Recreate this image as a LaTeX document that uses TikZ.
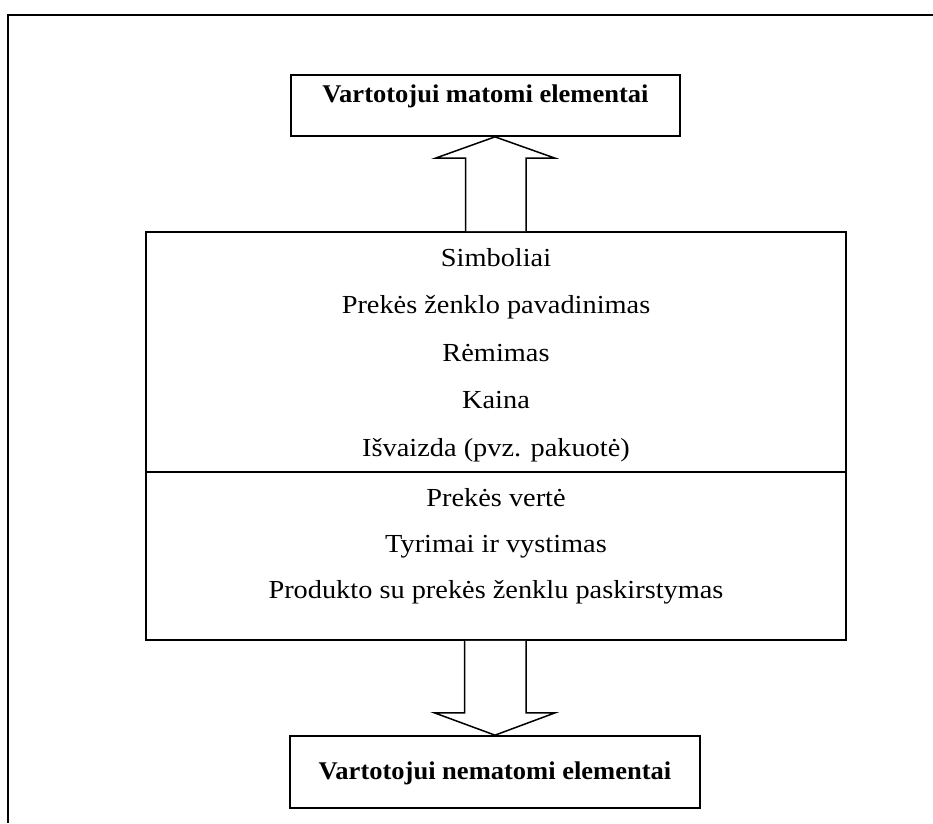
\documentclass[tikz,border=0pt]{standalone}
\usepackage{fontspec}
\setmainfont{Liberation Serif}
\newfontfamily\itemfont[FakeStretch=1.09]{Liberation Serif}
\newfontfamily\headfont[FakeStretch=1.04]{Liberation Serif}
\usetikzlibrary{calc}
\begin{document}
\begin{tikzpicture}[x=1pt,y=-1pt,
  frameline/.style={line width=2pt, black},
  boxshape/.style={draw, line width=1.7pt, rectangle, inner sep=0pt},
  headtext/.style={font=\headfont\fontsize{25.5}{28}\selectfont\bfseries, anchor=base, inner sep=0pt},
  itemtext/.style={font=\itemfont\fontsize{26}{28}\selectfont, anchor=base, inner sep=0pt},
  blockarrow/.style={draw, line width=1.5pt, line join=miter, fill=white}]
\useasboundingbox (0,0) rectangle (933,823);

% page frame (top and left edges)
\coordinate (frameTR) at (933,15);
\coordinate (frameTL) at (8,15);
\coordinate (frameBL) at (8,823);
\draw[frameline] (frameTR) -- (frameTL) -- (frameBL);

% visible elements box
\node[boxshape, minimum width=389pt, minimum height=61pt] (vis) at (485.5,105.5) {};
\node[headtext] (vistext) at (485.5,102) {Vartotojui matomi elementai};

% central box with two sections
\node[boxshape, minimum width=700pt, minimum height=408pt] (main) at (496,436) {};
\draw[line width=1.7pt] (main.west |- 0,472) -- (main.east |- 0,472);

\node[itemtext] (s1) at (496,266) {Simboliai};
\node[itemtext] (s2) at (496,313.5) {Prekės ženklo pavadinimas};
\node[itemtext] (s3) at (496,361) {Rėmimas};
\node[itemtext] (s4) at (496,408.5) {Kaina};
\node[itemtext] (s5) at (496,456) {Išvaizda (pvz. pakuotė)};

\node[itemtext] (n1) at (496,506) {Prekės vertė};
\node[itemtext] (n2) at (496,552) {Tyrimai ir vystimas};
\node[itemtext] (n3) at (496,598) {Produkto su prekės ženklu paskirstymas};

% invisible elements box
\node[boxshape, minimum width=410pt, minimum height=72pt] (nvis) at (495,772) {};
\node[headtext] (nvistext) at (495,779) {Vartotojui nematomi elementai};

% block arrow up
\draw[blockarrow] ($(main.north)+(-30.5,0)$) -- ++(0,-73) -- ++(-30,0)
  -- ($(main.north |- vis.south)+(-1,0)$) -- ($(main.north)+(59,-73)$) -- ++(-29,0)
  -- ($(main.north)+(30,0)$);

% block arrow down
\draw[blockarrow] ($(main.south)+(-31.5,0)$) -- ++(0,72) -- ++(-30,0)
  -- ($(main.south |- nvis.north)+(-1,0)$) -- ($(main.south)+(59,72)$) -- ++(-29,0)
  -- ($(main.south)+(30,0)$);
\end{tikzpicture}
\end{document}
